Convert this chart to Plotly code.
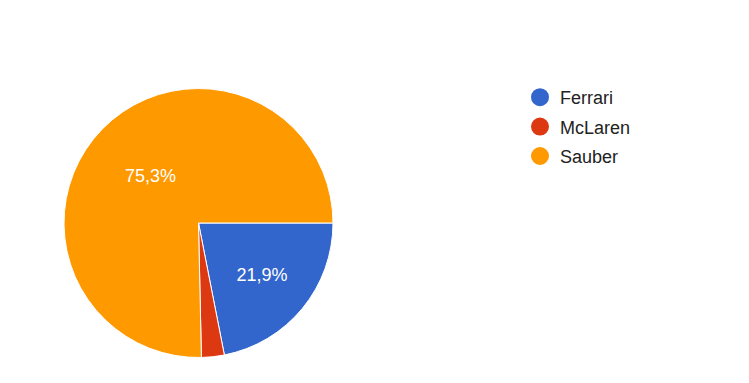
import plotly.graph_objects as go

teams = ["Ferrari", "McLaren", "Sauber"]
votes = [16, 2, 55]
colors = ["#3366cc", "#dc3912", "#ff9900"]
show_label = [True, False, True]

W, H = 749, 383
cx, cy, r = 198.5, 223, 134.5
FONT = "Arial, 'Liberation Sans', sans-serif"

fig = go.Figure()
fig.add_trace(go.Pie(
    labels=teams, values=votes, sort=False, direction="clockwise", rotation=90,
    marker=dict(colors=colors, line=dict(color="white", width=1)),
    texttemplate=["%{percent:.1%}" if s else "" for s in show_label],
    textposition="inside", insidetextorientation="horizontal",
    textfont=dict(family=FONT, size=18, color="white"),
    domain=dict(x=[(cx - r) / W, (cx + r) / W], y=[(H - cy - r) / H, (H - cy + r) / H]),
    showlegend=False, hoverinfo="label+percent",
))
for t, c in zip(teams, colors):
    fig.add_trace(go.Scatter(
        x=[None], y=[None], mode="markers", name=t, legendgroup=t,
        marker=dict(color=c, size=16, symbol="circle", line=dict(color=c, width=2)),
    ))

fig.update_layout(
    width=W, height=H, margin=dict(l=0, r=0, t=0, b=0),
    paper_bgcolor="white", plot_bgcolor="white",
    separators=",.",
    xaxis=dict(visible=False), yaxis=dict(visible=False),
    legend=dict(x=520 / W, y=1 - 79 / H, xanchor="left", yanchor="top",
                font=dict(family=FONT, size=18, color="#222222"),
                itemsizing="trace", bgcolor="rgba(0,0,0,0)", tracegroupgap=3),
)
fig.write_html("out.html")
